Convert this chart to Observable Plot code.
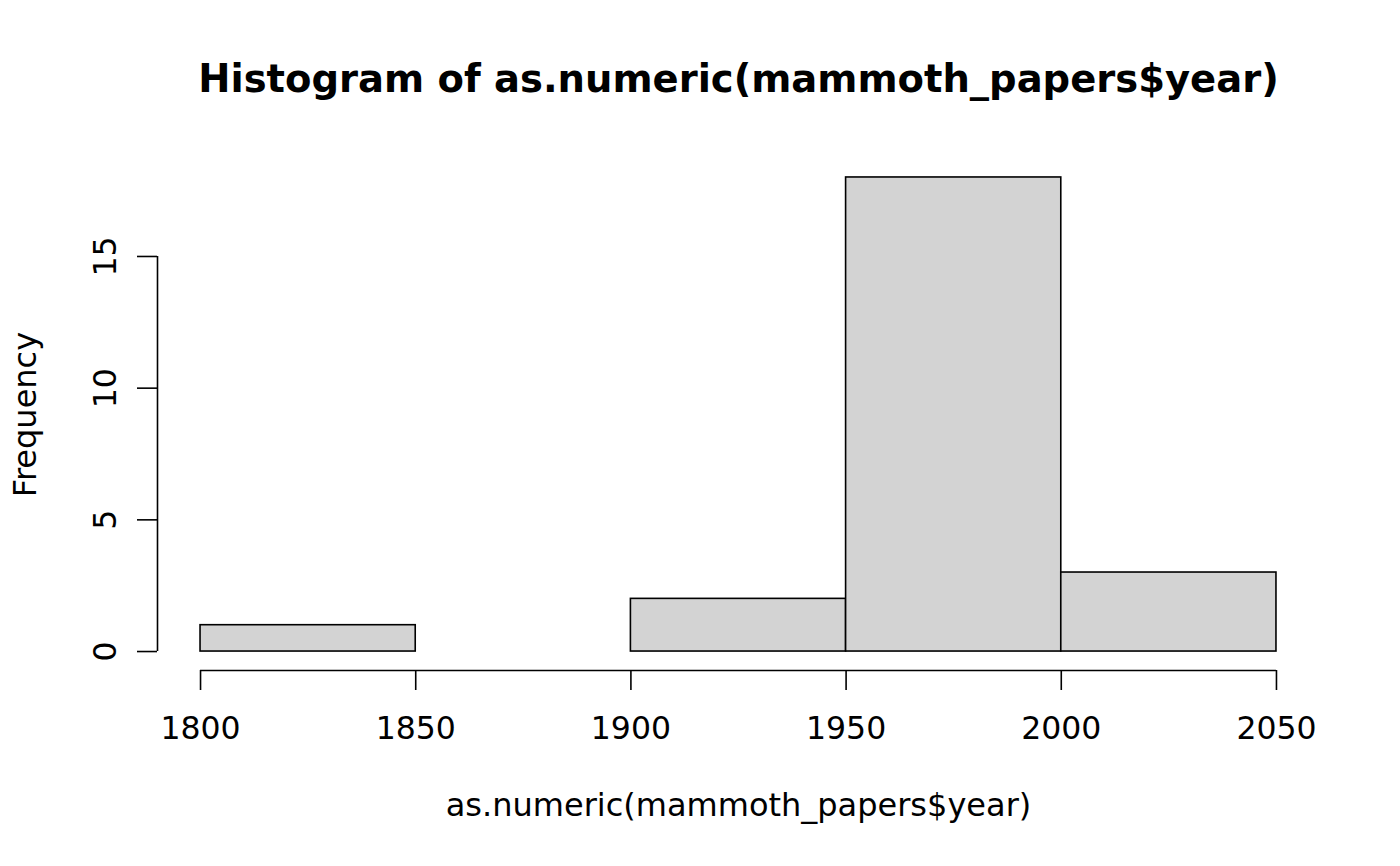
<!DOCTYPE html>
<html>
<head>
<meta charset="utf-8">
<script src="https://cdn.jsdelivr.net/npm/d3@7"></script>
<script src="https://cdn.jsdelivr.net/npm/@observablehq/plot@0.6"></script>
<style>
  html, body { margin: 0; padding: 0; background: #fff; }
  svg { display: block; }
</style>
</head>
<body>
<div id="chart"></div>
<script>
// Data
const binStart = [1800, 1850, 1900, 1950, 2000];
const binEnd   = [1850, 1900, 1950, 2000, 2050];
const counts   = [1, 0, 2, 18, 3];
const xTicks = [1800, 1850, 1900, 1950, 2000, 2050];
const yTicks = [0, 5, 10, 15];
const titleText = "Histogram of as.numeric(mammoth_papers$year)";
const xLabel = "as.numeric(mammoth_papers$year)";
const yLabel = "Frequency";

const bins = binStart.map((s, i) => ({x1: s, x2: binEnd[i], y: counts[i]}));

// R-style 4% domain extension
const xr = [d3.min(binStart), d3.max(binEnd)];
const yr = [0, d3.max(counts)];
const xPad = (xr[1] - xr[0]) * 0.04, yPad = (yr[1] - yr[0]) * 0.04;
const xDomain = [xr[0] - xPad, xr[1] + xPad];
const yDomain = [yr[0] - yPad, yr[1] + yPad];

const font = "DejaVu Sans, sans-serif";

const chart = Plot.plot({
  width: 1400,
  height: 866,
  marginLeft: 157,
  marginRight: 81,
  marginTop: 158,
  marginBottom: 196,
  style: {fontFamily: font, background: "#fff", color: "#000"},
  x: {domain: xDomain, axis: null},
  y: {domain: yDomain, axis: null},
  marks: [
    Plot.rectY(bins, {x1: "x1", x2: "x2", y1: 0, y2: "y", fill: "#d3d3d3", stroke: "#000", strokeWidth: 1.6}),
    // x axis
    Plot.ruleY([yDomain[0]], {x1: d3.min(xTicks), x2: d3.max(xTicks), stroke: "#000", strokeWidth: 1.6}),
    Plot.axisX(xTicks, {anchor: "bottom", tickSize: 20, tickPadding: 26, fontSize: 31.5, label: null, stroke: "#000", strokeWidth: 1.6, tickFormat: d => String(d)}),
    // y axis
    Plot.ruleX([xDomain[0]], {y1: d3.min(yTicks), y2: d3.max(yTicks), stroke: "#000", strokeWidth: 1.6}),
    Plot.axisY(yTicks, {anchor: "left", tickSize: 20, tickPadding: 22, tickRotate: -90, fontSize: 31.5, label: null, stroke: "#000", strokeWidth: 1.6}),
    // titles
    Plot.text([titleText], {frameAnchor: "top", lineAnchor: "middle", textAnchor: "middle", dy: -79, fontSize: 38.5, fontWeight: "bold", fill: "#000", text: d => d}),
    Plot.text([xLabel], {frameAnchor: "bottom", lineAnchor: "middle", textAnchor: "middle", dy: 135, fontSize: 32, fill: "#000", text: d => d}),
    Plot.text([yLabel], {frameAnchor: "left", lineAnchor: "middle", textAnchor: "middle", dx: -132, rotate: -90, fontSize: 32, fill: "#000", text: d => d})
  ]
});
document.getElementById("chart").appendChild(chart);
</script>
</body>
</html>
